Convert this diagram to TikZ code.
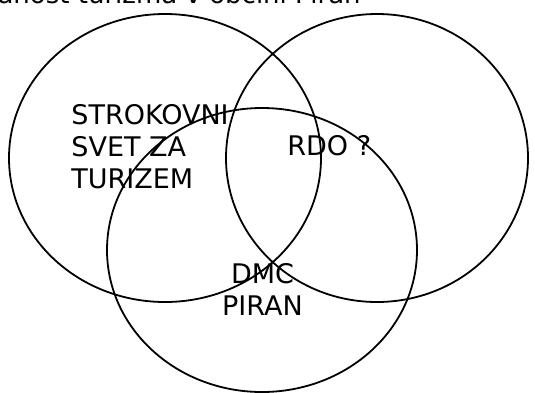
\documentclass[tikz,border=0pt]{standalone}
\usepackage{fontspec}
\setmainfont{DejaVu Sans}
\begin{document}
\begin{tikzpicture}[x=0.5pt,y=-0.5pt,
	ring/.style={line width=0.9pt},
	label/.style={inner sep=0pt,font=\fontsize{13.5}{16}\selectfont}]

	\useasboundingbox (0,0) rectangle (535,392);
	\clip (0,0) rectangle (535,392);

	% the three sets
	\coordinate (svet) at (165,158);
	\coordinate (rdo) at (377,158);
	\coordinate (dmc) at (262,250);

	\draw[ring] (svet) ellipse (156 and 144);
	\draw[ring] (rdo) ellipse (151 and 144);
	\draw[ring] (dmc) ellipse (155 and 142);

	% title runs off the top edge
	\node (title) at (361,3) [label,font=\fontsize{13}{16}\selectfont,anchor=base east] {anost turizma v občini Piran};

	% base of a multi-line node sits on its last line
	\node (svetlbl) at (71,188) [label,anchor=base west,align=left] {STROKOVNI\\SVET ZA\\TURIZEM};
	\node (rdolbl) at (287,155) [label,anchor=base west] {RDO ?};
	\node (dmclbl) at (262.5,315) [label,anchor=base,align=center] {DMC\\PIRAN};

\end{tikzpicture}
\end{document}
